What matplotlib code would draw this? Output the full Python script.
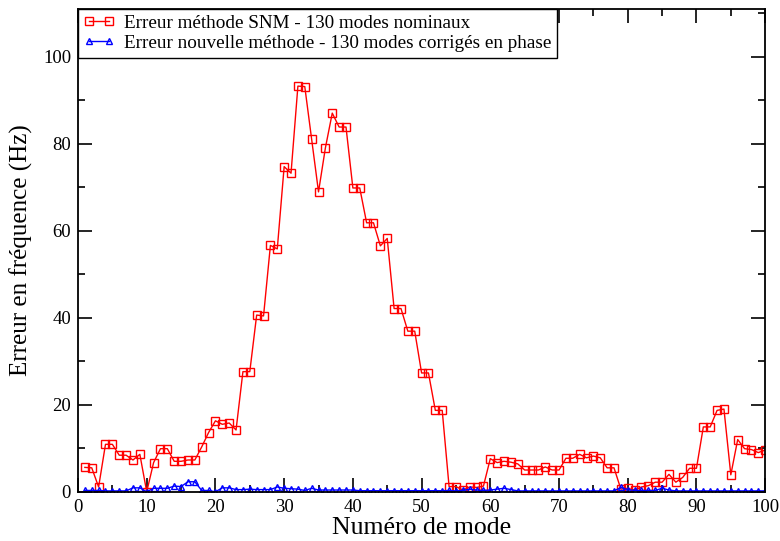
import numpy as np
import matplotlib
matplotlib.use('Agg')
import matplotlib.pyplot as plt
from matplotlib.ticker import MultipleLocator

plt.rcParams['font.family'] = ['Liberation Serif', 'DejaVu Serif']

# numéros de mode
modes = list(range(1, 101))

# erreur méthode SNM (130 modes nominaux)
err_snm = [5.6, 5.5, 1.1, 10.9, 10.9, 8.4, 8.4, 7.3, 8.6, 0.0,
           6.7, 9.9, 9.9, 7.0, 7.0, 7.3, 7.3, 10.3, 13.6, 16.3,
           15.5, 15.8, 14.2, 27.6, 27.6, 40.6, 40.4, 56.6, 55.8, 74.7,
           73.2, 93.2, 93.1, 81.0, 68.9, 79.0, 87.0, 83.8, 83.8, 69.8,
           69.8, 61.8, 61.8, 56.5, 58.2, 42.1, 42.1, 36.9, 36.9, 27.3,
           27.3, 18.7, 18.7, 1.2, 1.2, 0.4, 1.1, 1.0, 1.3, 7.6,
           6.7, 7.0, 6.8, 6.4, 5.0, 5.0, 5.0, 5.7, 5.0, 5.0,
           7.7, 7.7, 8.6, 7.8, 8.2, 7.8, 5.5, 5.5, 0.6, 0.8,
           0.4, 1.1, 1.4, 2.2, 2.2, 4.0, 2.2, 3.3, 5.4, 5.4,
           14.9, 14.9, 18.7, 19.0, 3.9, 12.0, 9.9, 9.7, 9.0, 9.6]

# erreur nouvelle méthode (130 modes corrigés en phase)
err_new = [0.3, 0.3, 0.3, 0.2, 0.2, 0.2, 0.2, 0.9, 0.9, 0.0,
           0.8, 0.8, 0.8, 1.3, 1.2, 2.3, 2.3, 0.3, 0.3, 0.0,
           0.9, 0.9, 0.5, 0.5, 0.6, 0.5, 0.5, 0.5, 1.1, 0.8,
           0.7, 0.6, 0.3, 0.8, 0.4, 0.4, 0.4, 0.4, 0.4, 0.4,
           0.25, 0.25, 0.25, 0.25, 0.25, 0.25, 0.25, 0.25, 0.25, 0.25,
           0.25, 0.25, 0.25, 0.3, 0.2, 0.3, 0.6, 0.4, 0.3, 0.4,
           0.6, 0.8, 0.5, 0.2, 0.2, 0.2, 0.2, 0.2, 0.2, 0.2,
           0.2, 0.2, 0.2, 0.2, 0.2, 0.2, 0.2, 0.2, 1.0, 0.5,
           0.3, 0.3, 0.3, 0.3, 0.8, 0.4, 0.2, 0.2, 0.2, 0.2,
           0.2, 0.2, 0.2, 0.2, 0.2, 0.2, 0.2, 0.2, 0.2, 0.2]

fig = plt.figure(figsize=(7.8, 5.41), dpi=100)
ax = fig.add_axes([0.1, 0.091, 0.881, 0.893])

ax.plot(modes, err_snm, color='red', lw=1.0, marker='s', ms=5.2,
        mfc='none', mec='red', mew=1.0,
        label='Erreur méthode SNM - 130 modes nominaux')
ax.plot(modes, err_new, color='blue', lw=1.0, marker='^', ms=5,
        mfc='none', mec='blue', mew=1.0,
        label='Erreur nouvelle méthode - 130 modes corrigés en phase')

ax.set_xlim(0, 100)
ax.set_ylim(0, 111)
ax.xaxis.set_major_locator(MultipleLocator(10))
ax.xaxis.set_minor_locator(MultipleLocator(5))
ax.yaxis.set_minor_locator(MultipleLocator(10))
ax.set_yticks([0, 20, 40, 60, 80, 100])
ax.tick_params(which='both', direction='in', top=True, right=True,
               labelsize=13.5, width=1.2)
ax.tick_params(which='major', length=10, pad=5)
ax.tick_params(which='minor', length=5)
for s in ax.spines.values():
    s.set_linewidth(1.3)

ax.set_xlabel('Numéro de mode', fontsize=18.5, labelpad=1)
ax.set_ylabel('Erreur en fréquence (Hz)', fontsize=18, labelpad=7)

leg = ax.legend(loc='upper left', fontsize=13.75, borderaxespad=0,
                numpoints=2, handlelength=1.6, handletextpad=0.5,
                fancybox=False, framealpha=1, borderpad=0.3,
                labelspacing=0.15)
leg.get_frame().set_edgecolor('black')
leg.get_frame().set_linewidth(1.0)

fig.savefig('out.png', dpi=100)
